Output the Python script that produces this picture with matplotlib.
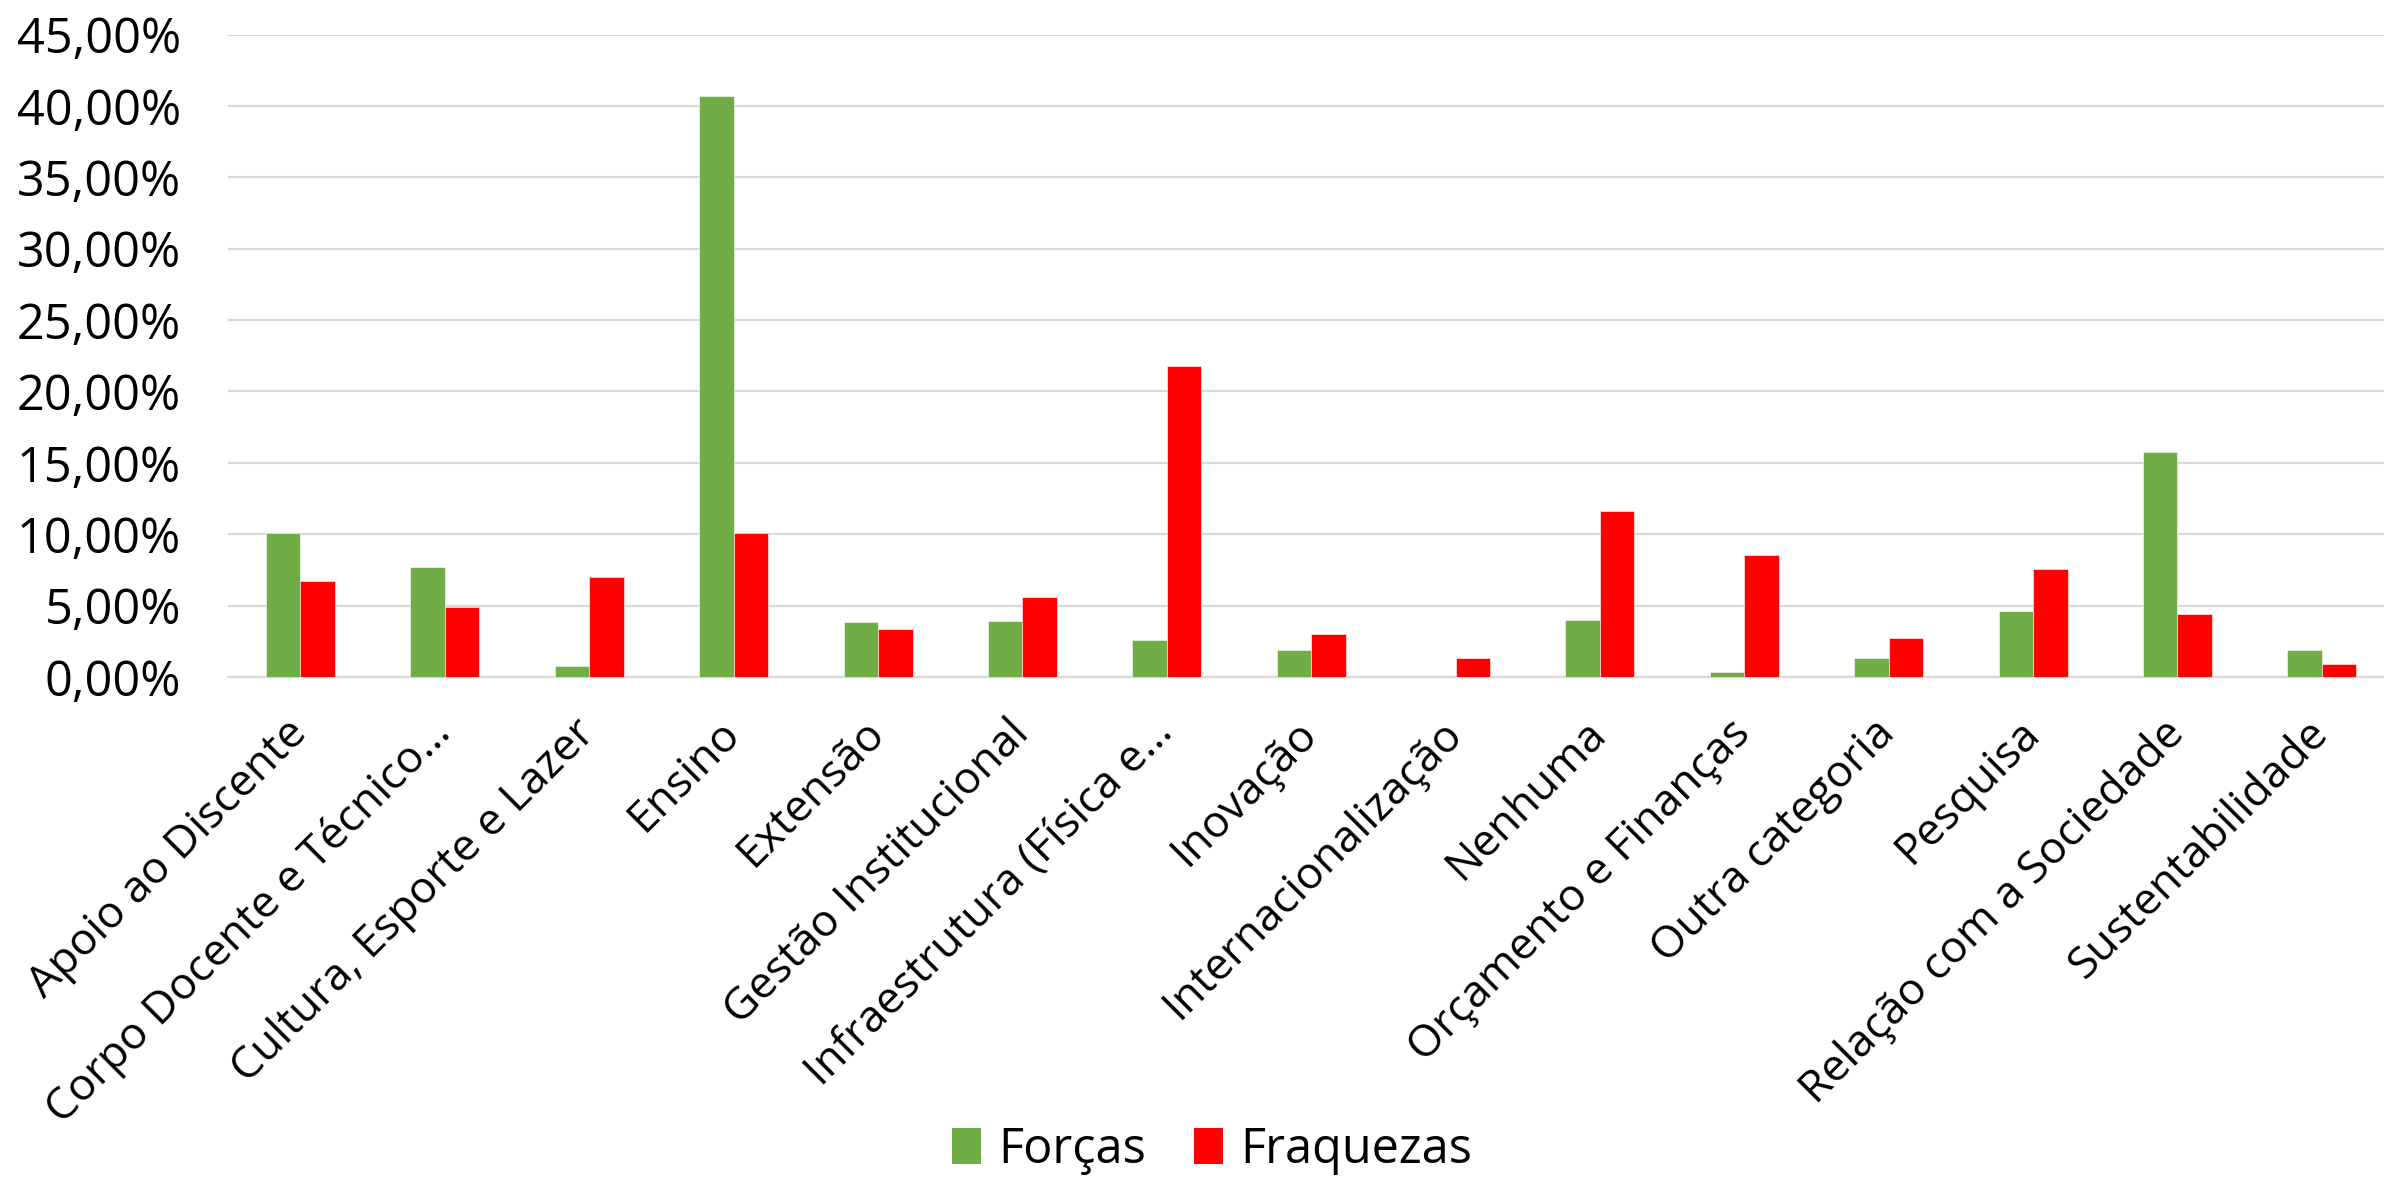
import matplotlib
matplotlib.use("Agg")
import matplotlib.pyplot as plt
from matplotlib.ticker import FuncFormatter
from matplotlib.patches import Patch
import numpy as np

categories = ["Apoio ao Discente", "Corpo Docente e Técnico…", "Cultura, Esporte e Lazer",
              "Ensino", "Extensão", "Gestão Institucional", "Infraestrutura (Física e…",
              "Inovação", "Internacionalização", "Nenhuma", "Orçamento e Finanças",
              "Outra categoria", "Pesquisa", "Relação com a Sociedade", "Sustentabilidade"]
forcas = [10.08, 7.70, 0.78, 40.71, 3.82, 3.91, 2.57, 1.91, 0.09, 4.01, 0.34, 1.31, 4.60, 15.74, 1.91]
fraquezas = [6.73, 4.91, 6.98, 10.08, 3.35, 5.60, 21.75, 3.00, 1.31, 11.61, 8.51, 2.75, 7.54, 4.38, 0.94]
yticks = [0, 5, 10, 15, 20, 25, 30, 35, 40, 45]
series_names = ["Forças", "Fraquezas"]

GREEN = "#70AD47"
RED = "#FF0000"
GRID = "#D9D9D9"

plt.rcParams['font.family'] = ['Open Sans', 'DejaVu Sans']

W, H = 2384, 1179
fig = plt.figure(figsize=(W / 100, H / 100), dpi=100)
ax = fig.add_axes([228.3 / W, 1 - 677 / H, (2394 - 228.3) / W, (677 - 34.5) / H])

x = np.arange(len(categories))
bw = 0.239
ax.bar(x - bw / 2, forcas, bw, color=GREEN, edgecolor="white", linewidth=0.4, zorder=3)
ax.bar(x + bw / 2, fraquezas, bw, color=RED, edgecolor="white", linewidth=0.4, zorder=3)

ax.set_xlim(-0.5, len(categories) - 0.5)
ax.set_ylim(0, 45)
ax.set_yticks(yticks)
ax.yaxis.set_major_formatter(FuncFormatter(lambda v, p: f"{v:.2f}%".replace(".", ",")))
ax.grid(axis='y', color=GRID, linewidth=1.6, zorder=0)
ax.set_axisbelow(True)
for s in ['top', 'right', 'left']:
    ax.spines[s].set_visible(False)
ax.spines['bottom'].set_color(GRID)
ax.spines['bottom'].set_linewidth(1.6)
ax.tick_params(axis='y', length=0, pad=34, labelsize=35, colors='black')
ax.tick_params(axis='x', length=0, pad=36, labelsize=32)
ax.set_xticks(x)
ax.set_xticklabels(categories, rotation=45, ha='right', va='center', rotation_mode='anchor')

handles = [Patch(facecolor=GREEN), Patch(facecolor=RED)]
fig.legend(handles, series_names, loc='center', bbox_to_anchor=(1212 / W, 1 - 1150 / H),
           ncol=2, frameon=False, fontsize=35, handlelength=0.6, handleheight=0.75,
           handletextpad=0.35, columnspacing=1.0)

fig.savefig("out.png", dpi=100)
